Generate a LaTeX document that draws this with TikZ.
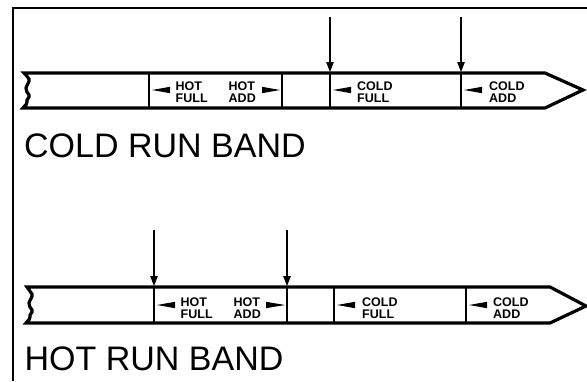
\documentclass[tikz,border=0pt]{standalone}
\usepackage{fontspec}
\setmainfont{Liberation Sans}
\usetikzlibrary{arrows.meta}
\begin{document}
\begin{tikzpicture}[x=1pt,y=-1pt,
  frame/.style={line width=2.4pt},
  band/.style={line width=3.2pt, line join=miter},
  divider/.style={line width=2.8pt},
  marker/.style={line width=1.3pt,-{Triangle[length=10pt,width=7.5pt]}},
  wedge/.style={fill=black},
  lbl/.style={inner sep=0pt, anchor=base west, align=left, font=\fontsize{12.5}{12.1}\selectfont\bfseries},
  title/.style={inner sep=0pt, anchor=base west, font=\fontsize{34}{40}\selectfont}]
\useasboundingbox (0,0) rectangle (587,381);
% frame
\coordinate (fa) at (13,381);
\coordinate (fb) at (13,8);
\coordinate (fc) at (587,8);
\draw[frame] (fa) -- (fb) -- (fc);

% ---------- COLD RUN BAND ----------
\draw[band] (24,73) -- (545,73) -- (583,90) -- (545,108) -- (23,108)
  .. controls (25,105) and (28,104) .. (27,102)
  .. controls (26,99) and (30,98) .. (29,95)
  .. controls (28,92) and (25,91) .. (26,88)
  .. controls (27,84) and (30,82) .. (29,79)
  .. controls (28,76) and (25,75) .. (24,73) -- cycle;
\foreach \x in {149,282,330,461}
  \draw[divider] (\x,73) -- (\x,108);
\coordinate (c1s) at (330,17); \coordinate (c1e) at (330,72);
\coordinate (c2s) at (461,17); \coordinate (c2e) at (461,72);
\draw[marker] (c1s) -- (c1e);
\draw[marker] (c2s) -- (c2e);
\fill[wedge] (152,90) -- (170,86.8) -- (170,93.2) -- cycle;
\fill[wedge] (280,90) -- (262,86.8) -- (262,93.2) -- cycle;
\fill[wedge] (333,90) -- (351,86.8) -- (351,93.2) -- cycle;
\fill[wedge] (464,90) -- (482,86.8) -- (482,93.2) -- cycle;
\node[lbl] (t1) at (175.5,102.7) {HOT\\FULL};
\node[lbl] (t2) at (228.5,102.7) {HOT\\ADD};
\node[lbl] (t3) at (357,102.7) {COLD\\FULL};
\node[lbl] (t4) at (489,102.7) {COLD\\ADD};
\node[title] (cold) at (24,157) {COLD RUN BAND};

% ---------- HOT RUN BAND ----------
\draw[band] (27,287) -- (550,287) -- (586,306) -- (550,323) -- (26,323)
  .. controls (28,320) and (31,319) .. (30,317)
  .. controls (29,314) and (33,313) .. (32,310)
  .. controls (31,307) and (28,306) .. (29,303)
  .. controls (30,299) and (33,297) .. (32,294)
  .. controls (31,291) and (28,290) .. (27,287) -- cycle;
\foreach \x in {154,287,334,466}
  \draw[divider] (\x,287) -- (\x,323);
\coordinate (h1s) at (154,230); \coordinate (h1e) at (154,286);
\coordinate (h2s) at (287,230); \coordinate (h2e) at (287,286);
\draw[marker] (h1s) -- (h1e);
\draw[marker] (h2s) -- (h2e);
\fill[wedge] (157,305) -- (175,301.8) -- (175,308.2) -- cycle;
\fill[wedge] (285,305) -- (266,301.8) -- (266,308.2) -- cycle;
\fill[wedge] (337,305) -- (355,301.8) -- (355,308.2) -- cycle;
\fill[wedge] (469,305) -- (487,301.8) -- (487,308.2) -- cycle;
\node[lbl] (b1) at (180.5,318.2) {HOT\\FULL};
\node[lbl] (b2) at (233.5,318.2) {HOT\\ADD};
\node[lbl] (b3) at (362,318.2) {COLD\\FULL};
\node[lbl] (b4) at (493,318.2) {COLD\\ADD};
\node[title] (hot) at (24.5,370) {HOT RUN BAND};
\end{tikzpicture}
\end{document}
